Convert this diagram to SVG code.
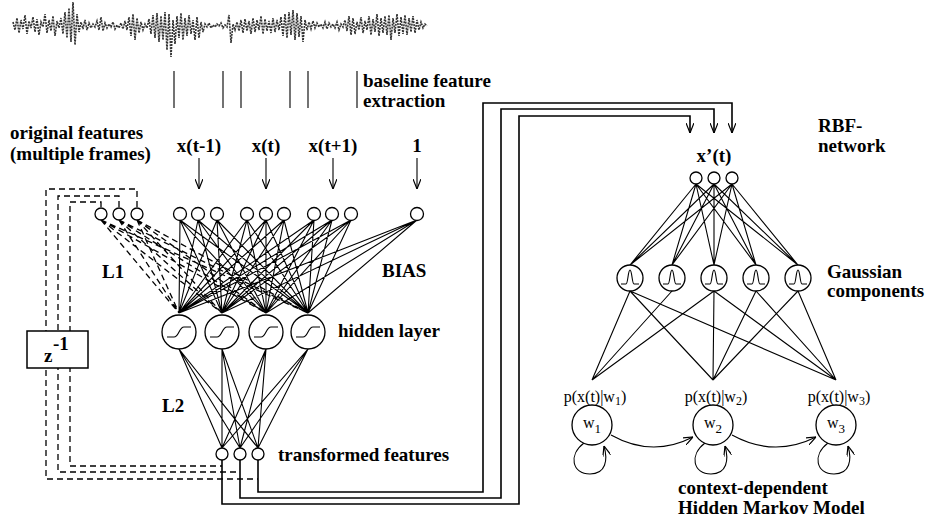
<svg xmlns="http://www.w3.org/2000/svg" width="929" height="523" viewBox="0 0 929 523">
<style>
.t{font-family:"Liberation Serif","Times New Roman",serif;font-weight:bold;font-size:19px;fill:#000}
.r{font-family:"Liberation Serif","Times New Roman",serif;font-size:16px;fill:#000}
.n{fill:#fff;stroke:#000;stroke-width:1.3}
.l{fill:none;stroke:#000;stroke-width:1.1}
.d{fill:none;stroke:#000;stroke-width:1.3;stroke-dasharray:6 4}
.g{fill:none;stroke:#000;stroke-width:1.1}
.w{fill:none;stroke:#000;stroke-width:1.6}
</style>
<defs>
<marker id="ah" viewBox="0 0 10 8" refX="10" refY="4" markerWidth="10" markerHeight="8" markerUnits="userSpaceOnUse" orient="auto">
<path d="M0,0 L10,4 L0,8" fill="none" stroke="#000" stroke-width="1.2"/>
</marker>
</defs>

<g id="waveform">
<polyline fill="none" stroke="#333" stroke-width="1.6" stroke-dasharray="2 1" points="13,22 15,30 17,18 19,33 21,20 23,29 25,15 27,34 29,21 31,28 33,17 35,32 37,19 39,35 41,22 43,27 45,14 47,33 49,20 51,31 53,16 55,36 57,21 59,28 61,18 63,34 65,12 67,38 69,8 71,42 73,2 75,45 77,14 79,32 81,22 83,29 85,20 87,30 89,23 91,28 93,24 95,27 97,21 99,30 101,17 103,31 105,23 107,28 109,24 111,27 113,22 115,29 117,25 119,28 121,23 123,29 125,21 127,30 129,17 131,36 133,14 135,40 137,18 139,33 141,22 143,30 145,24 147,28 149,19 151,34 153,15 155,38 157,13 159,42 161,16 163,40 165,12 167,50 169,14 171,57 173,20 175,44 177,16 179,38 181,13 183,40 185,18 187,36 189,15 191,34 193,20 195,40 197,17 199,38 201,22 203,32 205,24 207,27 209,23 211,28 213,25 215,27 217,24 219,26 221,23 223,28 225,25 227,27 229,15 231,43 233,24 235,30 237,22 239,31 241,20 243,33 245,19 247,31 249,21 251,34 253,18 255,32 257,20 259,30 261,16 263,34 265,19 267,31 269,21 271,33 273,18 275,32 277,20 279,30 281,17 283,36 285,14 287,38 289,12 291,35 293,10 295,40 297,13 299,37 301,16 303,42 305,20 307,30 309,22 311,29 313,21 315,28 317,23 319,27 321,24 323,28 325,22 327,29 329,23 331,27 333,24 335,28 337,22 339,30 341,24 343,27 345,20 347,31 349,16 351,35 353,18 355,34 357,22 359,30 361,17 363,33 365,21 367,30 369,16 371,35 373,19 375,32 377,14 379,36 381,18 383,33 385,16 387,35 389,15 391,40 393,18 395,33 397,14 399,36 401,17 403,34 405,15 407,35 409,18 411,32 413,16 415,33 417,20 419,30 421,22 423,28 425,24 427,26"/>
</g>

<g id="extraction">
<path class="l" stroke-width="1.3" d="M174,71 V108 M223,71 V108 M241,71 V108 M290,71 V108 M308,71 V108 M357,71 V108"/>
<text class="t" x="363" y="87" font-size="18">baseline feature</text>
<text class="t" x="363" y="107" font-size="18">extraction</text>
</g>

<g id="labels-left">
<text class="t" x="10" y="139">original features</text>
<text class="t" x="10" y="160">(multiple frames)</text>
<text class="t" x="199" y="152" text-anchor="middle">x(t-1)</text>
<text class="t" x="266" y="152" text-anchor="middle">x(t)</text>
<text class="t" x="333" y="152" text-anchor="middle">x(t+1)</text>
<text class="t" x="417" y="152" text-anchor="middle">1</text>
<text class="t" x="102" y="278" font-size="18">L1</text>
<text class="t" x="382" y="277">BIAS</text>
<text class="t" x="338" y="337">hidden layer</text>
<text class="t" x="162" y="412" font-size="18">L2</text>
<text class="t" x="278" y="461">transformed features</text>
</g>

<g id="connectors">
<path class="l" marker-end="url(#ah)" d="M199,158 V189"/>
<path class="l" marker-end="url(#ah)" d="M266,158 V189"/>
<path class="l" marker-end="url(#ah)" d="M333,158 V189"/>
<path class="l" marker-end="url(#ah)" d="M417,158 V189"/>
<path class="d" d="M101,207 V202 H70 V466 H222"/>
<path class="d" d="M119,207 V196 H58 V472 H240"/>
<path class="d" d="M137,207 V189 H46 V479 H258"/>
<path class="d" stroke-width="1.1" stroke-dasharray="5 4" d="M101,220 L179,313 M101,220 L222,313 M101,220 L266,313 M101,220 L308,313 M119,220 L179,313 M119,220 L222,313 M119,220 L266,313 M119,220 L308,313 M137,220 L179,313 M137,220 L222,313 M137,220 L266,313 M137,220 L308,313"/>
<path class="l" d="M180,220 L179,313 M180,220 L222,313 M180,220 L266,313 M180,220 L308,313
M198,220 L179,313 M198,220 L222,313 M198,220 L266,313 M198,220 L308,313
M217,220 L179,313 M217,220 L222,313 M217,220 L266,313 M217,220 L308,313
M247,220 L179,313 M247,220 L222,313 M247,220 L266,313 M247,220 L308,313
M266,220 L179,313 M266,220 L222,313 M266,220 L266,313 M266,220 L308,313
M284,220 L179,313 M284,220 L222,313 M284,220 L266,313 M284,220 L308,313
M314,220 L179,313 M314,220 L222,313 M314,220 L266,313 M314,220 L308,313
M332,220 L179,313 M332,220 L222,313 M332,220 L266,313 M332,220 L308,313
M351,220 L179,313 M351,220 L222,313 M351,220 L266,313 M351,220 L308,313
M417,220 L179,313 M417,220 L222,313 M417,220 L266,313 M417,220 L308,313"/>
<path class="l" d="M179,349 L222,448 M179,349 L240,448 M179,349 L258,448
M222,349 L222,448 M222,349 L240,448 M222,349 L258,448
M266,349 L222,448 M266,349 L240,448 M266,349 L258,448
M308,349 L222,448 M308,349 L240,448 M308,349 L258,448"/>
<path class="w" marker-end="url(#ah)" d="M222,460 V504 H519 V116 H690 V133"/>
<path class="w" marker-end="url(#ah)" d="M240,460 V498 H501 V109 H714 V133"/>
<path class="w" marker-end="url(#ah)" d="M258,460 V492 H483 V103 H732 V133"/>
<path class="l" d="M696,184 L630,265 M696,184 L672,265 M696,184 L714,265 M696,184 L756,265 M696,184 L798,265
M714,184 L630,265 M714,184 L672,265 M714,184 L714,265 M714,184 L756,265 M714,184 L798,265
M732,184 L630,265 M732,184 L672,265 M732,184 L714,265 M732,184 L756,265 M732,184 L798,265"/>
<path class="l" d="M592,380 L630,291 M592,380 L672,291 M592,380 L714,291
M713,380 L630,291 M713,380 L714,291 M713,380 L756,291 M713,380 L798,291
M836,380 L630,291 M836,380 L714,291 M836,380 L756,291 M836,380 L798,291"/>
<path class="l" marker-end="url(#ah)" d="M611,435 Q652,458 693,437"/>
<path class="l" marker-end="url(#ah)" d="M732,435 Q774,458 816,437"/>
<path class="l" marker-end="url(#ah)" d="M584,443 C568,455 572,474 590,474 C606,474 608,460 604,446"/>
<path class="l" marker-end="url(#ah)" d="M705,443 C689,455 693,474 711,474 C727,474 729,460 725,446"/>
<path class="l" marker-end="url(#ah)" d="M828,443 C812,455 816,474 834,474 C850,474 852,460 848,446"/>
</g>

<g id="delay">
<rect x="27" y="331" width="61" height="37" fill="#fff" stroke="#000" stroke-width="1.5"/>
<text class="t" x="44" y="362" font-size="21">z</text>
<text class="t" x="53" y="350" font-size="17">-1</text>
</g>

<g id="feedback-nodes">
<circle class="n" cx="101" cy="214" r="6"/>
<circle class="n" cx="119" cy="214" r="6"/>
<circle class="n" cx="137" cy="214" r="6"/>
</g>

<g id="input-nodes">
<circle class="n" cx="180" cy="214" r="6.5"/>
<circle class="n" cx="198" cy="214" r="6.5"/>
<circle class="n" cx="217" cy="214" r="6.5"/>
<circle class="n" cx="247" cy="214" r="6.5"/>
<circle class="n" cx="266" cy="214" r="6.5"/>
<circle class="n" cx="284" cy="214" r="6.5"/>
<circle class="n" cx="314" cy="214" r="6.5"/>
<circle class="n" cx="332" cy="214" r="6.5"/>
<circle class="n" cx="351" cy="214" r="6.5"/>
<circle class="n" cx="417" cy="214" r="6.5"/>
</g>

<g id="hidden-layer">
<circle class="n" cx="179" cy="332" r="17"/>
<path class="g" d="M167,337 H174 C179,337 179,327 184,327 H191"/>
<circle class="n" cx="222" cy="332" r="17"/>
<path class="g" d="M210,337 H217 C222,337 222,327 227,327 H234"/>
<circle class="n" cx="266" cy="332" r="17"/>
<path class="g" d="M254,337 H261 C266,337 266,327 271,327 H278"/>
<circle class="n" cx="308" cy="332" r="17"/>
<path class="g" d="M296,337 H303 C308,337 308,327 313,327 H320"/>
</g>

<g id="transformed-nodes">
<circle class="n" cx="222" cy="454" r="6"/>
<circle class="n" cx="240" cy="454" r="6"/>
<circle class="n" cx="258" cy="454" r="6"/>
</g>

<g id="rbf-inputs">
<text class="t" x="714" y="162" text-anchor="middle">x’(t)</text>
<circle class="n" cx="696" cy="178" r="6"/>
<circle class="n" cx="714" cy="178" r="6"/>
<circle class="n" cx="732" cy="178" r="6"/>
<text class="t" x="818" y="132" font-size="17">RBF-</text>
<text class="t" x="818" y="152" font-size="17">network</text>
</g>

<g id="gaussians">
<circle class="n" cx="630" cy="278" r="13"/>
<path class="g" d="M621,284 H626 C628,284 628,270 630,270 C632,270 632,284 634,284 H639"/>
<circle class="n" cx="672" cy="278" r="13"/>
<path class="g" d="M663,284 H668 C670,284 670,270 672,270 C674,270 674,284 676,284 H681"/>
<circle class="n" cx="714" cy="278" r="13"/>
<path class="g" d="M705,284 H710 C712,284 712,270 714,270 C716,270 716,284 718,284 H723"/>
<circle class="n" cx="756" cy="278" r="13"/>
<path class="g" d="M747,284 H752 C754,284 754,270 756,270 C758,270 758,284 760,284 H765"/>
<circle class="n" cx="798" cy="278" r="13"/>
<path class="g" d="M789,284 H794 C796,284 796,270 798,270 C800,270 800,284 802,284 H807"/>
<text class="t" x="827" y="278" font-size="16.5">Gaussian</text>
<text class="t" x="827" y="297" font-size="16.5">components</text>
</g>

<g id="hmm">
<text class="r" x="595" y="402" text-anchor="middle">p(x(t)|w<tspan font-size="12" dy="3">1</tspan><tspan dy="-3">)</tspan></text>
<text class="r" x="716" y="402" text-anchor="middle">p(x(t)|w<tspan font-size="12" dy="3">2</tspan><tspan dy="-3">)</tspan></text>
<text class="r" x="839" y="402" text-anchor="middle">p(x(t)|w<tspan font-size="12" dy="3">3</tspan><tspan dy="-3">)</tspan></text>
<circle class="n" cx="592" cy="425" r="20"/>
<text class="r" x="592" y="428" text-anchor="middle">w<tspan font-size="13" dy="5">1</tspan></text>
<circle class="n" cx="713" cy="425" r="20"/>
<text class="r" x="713" y="428" text-anchor="middle">w<tspan font-size="13" dy="5">2</tspan></text>
<circle class="n" cx="836" cy="425" r="20"/>
<text class="r" x="836" y="428" text-anchor="middle">w<tspan font-size="13" dy="5">3</tspan></text>
<text class="t" x="678" y="494" font-size="18">context-dependent</text>
<text class="t" x="678" y="514" font-size="18">Hidden Markov Model</text>
</g>
</svg>
